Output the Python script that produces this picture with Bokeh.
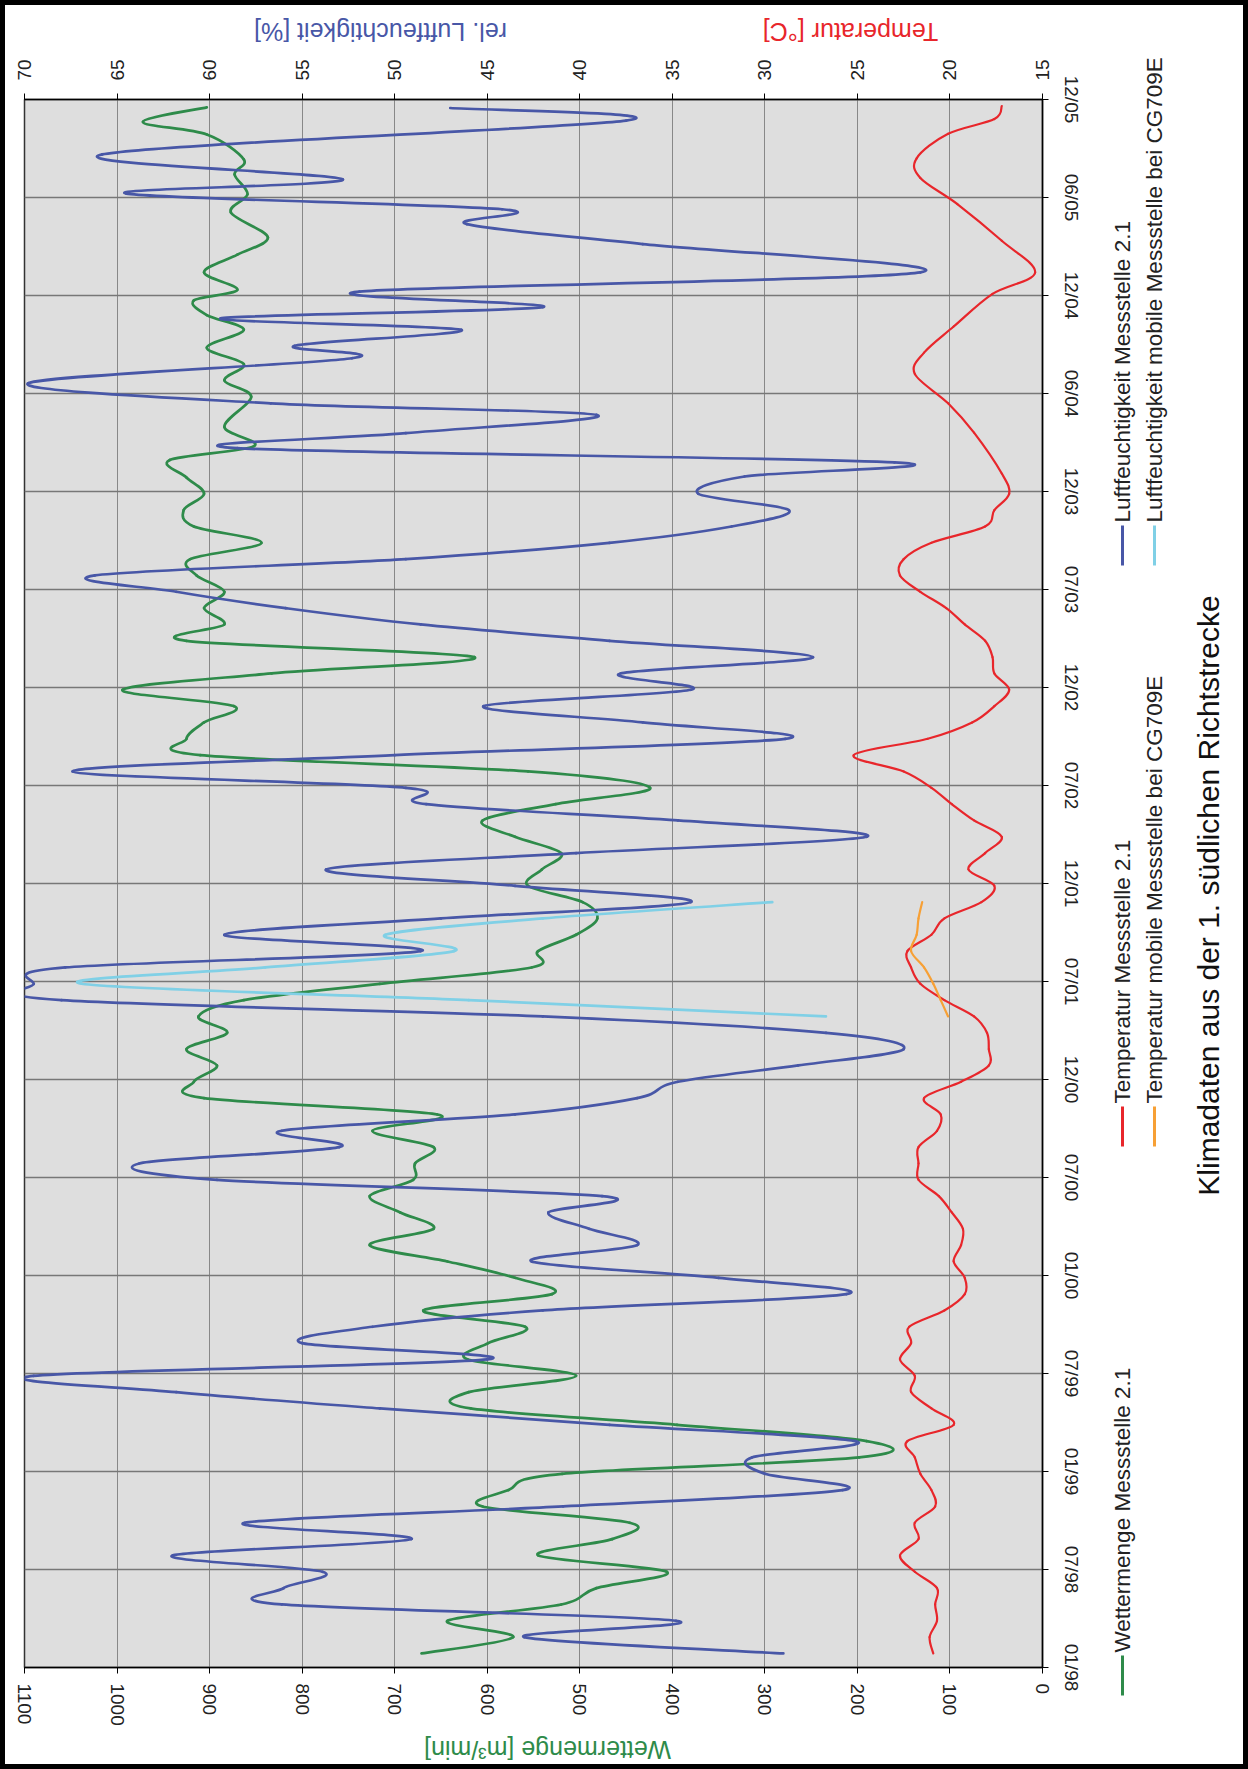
import numpy as np
from bokeh.plotting import figure
from bokeh.models import Range1d, LinearAxis, FixedTicker, ColumnDataSource
from bokeh.layouts import row
from bokeh.embed import file_html
from bokeh.resources import INLINE
from bokeh.core.properties import value

FONT = "Liberation Sans"

# ---------------- data ----------------
# time axis: months since 01/1998, one tick every half year
tick_months = [0, 6, 12, 18, 24, 30, 36, 42, 48, 54, 60, 66, 72, 78, 84, 90, 96]
tick_labels = ["01/98", "07/98", "01/99", "07/99", "01/00", "07/00", "12/00", "07/01",
               "12/01", "07/02", "12/02", "07/03", "12/03", "06/04", "12/04", "06/05", "12/05"]
flow_ticks = [0, 100, 200, 300, 400, 500, 600, 700, 800, 900, 1000, 1100]
pct_ticks = [15, 20, 25, 30, 35, 40, 45, 50, 55, 60, 65, 70]

# monthly measurement dates (months since 01/1998) for 1998-2003
month_grid = [0.86, 1.86, 2.86, 3.86, 4.86, 5.86, 6.86, 7.86, 8.86, 9.86, 10.86, 11.86,
              12.86, 13.86, 14.86, 15.86, 16.86, 17.86, 18.86, 19.86, 20.86, 21.86, 22.86, 23.86,
              24.86, 25.86, 26.86, 27.86, 28.86, 29.86, 30.86, 31.86, 32.86, 33.86, 34.86, 35.86,
              36.86, 37.86, 38.86, 39.86, 40.86, 41.86, 42.86, 43.86, 44.86, 45.86, 46.86, 47.86,
              48.86, 49.86, 50.86, 51.86, 52.86, 53.86, 54.86, 55.86, 56.86, 57.86, 58.86, 59.86,
              60.86, 61.86, 62.86, 63.86, 64.86, 65.86, 66.86, 67.86, 68.86, 69.86, 70.86, 71.86]

# Wettermenge Messstelle 2.1 [m3/min]
flow_t = month_grid + [72.86, 73.93, 74.78, 75.96, 77.8, 78.8, 79.8, 80.8, 81.9, 82.8, 83.7,
                       84.35, 85.42, 86.5, 87.56, 89.08, 90.2, 91.42, 92.33, 93.86, 94.63, 95.52]
flow_v = [671, 572, 643, 520, 482, 406, 545, 465, 446, 605, 577, 519,
          198, 190, 395, 618, 620, 504, 621, 599, 559, 669, 530, 570,
          643, 727, 658, 694, 727, 680, 678, 658, 724, 654, 906, 917,
          892, 925, 881, 912, 863, 716, 552, 545, 504, 481, 497, 556,
          541, 520, 570, 605, 526, 424, 556, 910, 925, 906, 874, 994,
          833, 614, 925, 884, 906, 884, 914, 921, 844, 917, 928, 906,
          925, 943, 852, 884, 855, 884, 863, 903, 863, 903, 917,
          870, 906, 870, 837, 877, 859, 873, 863, 903, 972, 903]

# Luftfeuchtigkeit Messstelle 2.1 [%]
hum_t = month_grid + [72.92, 73.78, 74.65, 75.57, 76.69, 77.4, 78.63, 80.16, 80.92, 81.9, 82.6,
                      83.29, 84.24, 85.42, 87.15, 88.37, 89.28, 90.24, 91.11, 92.64, 94.71, 95.48]
hum_v = [29.0, 43.0, 34.8, 56.1, 56.0, 53.9, 62.0, 49.1, 58.1, 40.9, 25.8, 30.0,
         30.7, 25.1, 38.4, 50.8, 61.8, 69.5, 45.0, 55.0, 51.2, 42.0, 25.6, 32.5,
         42.6, 36.9, 39.5, 41.7, 38.8, 59.6, 63.8, 53.0, 56.1, 43.5, 36.9, 34.7,
         28.2, 22.5, 26.7, 42.0, 68.0, 69.5, 67.8, 48.6, 59.2, 47.5, 34.0, 43.5,
         53.7, 40.2, 24.5, 34.7, 48.3, 49.4, 67.4, 50.0, 28.9, 36.6, 45.2, 34.0,
         37.8, 27.4, 38.4, 48.6, 55.9, 61.8, 66.2, 49.4, 38.4, 31.8, 28.7, 33.6,
         31.1, 23.0, 58.5, 49.4, 39.1, 56.7, 69.8, 52.3, 55.4, 46.4, 59.4,
         42.0, 51.9, 21.6, 36.6, 46.1, 44.2, 64.5, 52.8, 65.8, 37.5, 47.0]

# Temperatur Messstelle 2.1 [degC]
temp_t = month_grid + [73.1, 75.6, 77.4, 79.2, 80.5, 82.1, 84.1, 85.4, 87.35, 89.6, 91.2,
                       92.4, 93.9, 94.8, 95.6]
temp_v = [20.9, 21.1, 20.7, 20.8, 20.7, 21.9, 22.7, 21.7, 21.9, 20.8, 21.0, 21.6,
          21.9, 22.3, 19.8, 21.0, 22.1, 21.9, 22.7, 22.1, 22.2, 20.3, 19.2, 19.2,
          19.8, 19.4, 19.3, 19.9, 20.6, 21.7, 21.7, 21.7, 20.7, 20.5, 21.4, 19.4,
          17.9, 17.9, 18.0, 18.7, 20.3, 21.6, 22.1, 22.3, 21.0, 20.3, 18.3, 17.6,
          19.0, 18.1, 17.2, 18.7, 19.9, 21.0, 22.5, 25.2, 21.2, 18.8, 17.6, 16.8,
          17.6, 17.7, 18.1, 19.2, 20.2, 21.6, 22.7, 22.5, 21.0, 18.1, 17.6, 16.8,
          17.2, 18.7, 20.1, 21.9, 21.4, 19.8, 17.7, 15.4, 17.2, 19.6, 21.6,
          21.8, 20.1, 17.6, 17.2]

# mobile Messstelle bei CG709E
mob_t = [39.86, 40.86, 41.86, 42.86, 43.86, 44.86, 45.86, 46.86]
mob_hum_v = [26.7, 46.0, 66.9, 57.0, 46.8, 50.5, 42.0, 29.6]
mob_temp_v = [20.1, 20.5, 20.9, 21.4, 22.1, 21.8, 21.7, 21.5]

legend_names = ["Wettermenge Messstelle 2.1", "Temperatur Messstelle 2.1",
                "Luftfeuchtigkeit Messstelle 2.1", "Temperatur mobile Messstelle bei CG709E",
                "Luftfeuchtigkeit mobile Messstelle bei CG709E"]
title_text = "Klimadaten aus der 1. südlichen Richtstrecke"
flow_title = "Wettermenge [m³/min]"
hum_title = "rel. Luftfeuchtigkeit [%]"
temp_title = "Temperatur [°C]"

# ---------------- style ----------------
C_FLOW = "#2e8b4a"
C_HUM = "#4857a7"
C_TEMP = "#e8262b"
C_MHUM = "#80d0e6"
C_MTEMP = "#f7a035"
C_TEXT = "#222222"
legend_colors = [C_FLOW, C_TEMP, C_HUM, C_MTEMP, C_MHUM]

W, H = 1248, 1769
FX0, FX1, FY0, FY1 = 24, 1042, 99, 1667   # page pixels of the plotting frame


def smooth_source(vals, times):
    """Smoothed (Catmull-Rom) line segments through the read points."""
    v = np.asarray(vals, float)
    t = np.asarray(times, float)
    vp = np.concatenate([[v[0]], v, [v[-1]]])
    tp = np.concatenate([[t[0]], t, [t[-1]]])
    i = np.arange(len(v) - 1)
    return ColumnDataSource(dict(
        x0=vp[i + 1], y0=tp[i + 1], x1=vp[i + 2], y1=tp[i + 2],
        cx0=vp[i + 1] + (vp[i + 2] - vp[i]) / 6.0,
        cy0=tp[i + 1] + (tp[i + 2] - tp[i]) / 6.0,
        cx1=vp[i + 2] - (vp[i + 3] - vp[i + 1]) / 6.0,
        cy1=tp[i + 2] - (tp[i + 3] - tp[i + 1]) / 6.0,
    ))


# ---------------- main (rotated) chart ----------------
p = figure(width=W, height=H,
           x_range=Range1d(1100, 0), y_range=Range1d(0, 96),
           y_axis_location="right",
           output_backend="svg", toolbar_location=None,
           min_border_left=FX0, min_border_right=W - FX1,
           min_border_top=FY0, min_border_bottom=H - FY1,
           background_fill_color="#dedede", border_fill_color="white", border_fill_alpha=0,
           outline_line_color="#333333", outline_line_width=1.5)
p.extra_x_ranges = {"sec": Range1d(70, 15)}

xa = p.xaxis[0]
xa.ticker = FixedTicker(ticks=flow_ticks)
top_ax = LinearAxis(x_range_name="sec", ticker=FixedTicker(ticks=pct_ticks))
p.add_layout(top_ax, "above")
ya = p.yaxis[0]
ya.ticker = FixedTicker(ticks=tick_months)
ya.major_label_overrides = {m: lab for m, lab in zip(tick_months, tick_labels)}

for ax in (xa, top_ax, ya):
    ax.major_label_orientation = "vertical"
    ax.major_label_text_font = FONT
    ax.major_label_text_font_size = "19px"
    ax.major_label_text_color = C_TEXT
    ax.axis_line_color = "black"
    ax.axis_line_width = 1.5
    ax.major_tick_line_color = "black"
    ax.major_tick_out = 6
    ax.major_tick_in = 0
    ax.minor_tick_out = 0
    ax.minor_tick_in = 0
xa.major_label_standoff = 10
top_ax.major_label_standoff = 13
ya.major_label_standoff = 12

p.xgrid.grid_line_color = "#888888"
p.xgrid.grid_line_width = 1
p.ygrid.grid_line_color = "#777777"
p.ygrid.grid_line_width = 1.5

BZ = dict(x0="x0", y0="y0", x1="x1", y1="y1", cx0="cx0", cy0="cy0", cx1="cx1", cy1="cy1",
          line_cap="round")
p.bezier(source=smooth_source(flow_v, flow_t), line_color=C_FLOW, line_width=2.7, **BZ)
p.bezier(source=smooth_source(hum_v, hum_t), line_color=C_HUM, line_width=2.7,
         x_range_name="sec", **BZ)
p.bezier(source=smooth_source(mob_hum_v, mob_t), line_color=C_MHUM, line_width=2.7,
         x_range_name="sec", **BZ)
p.bezier(source=smooth_source(temp_v, temp_t), line_color=C_TEMP, line_width=2.2,
         x_range_name="sec", **BZ)
p.bezier(source=smooth_source(mob_temp_v, mob_t), line_color=C_MTEMP, line_width=2.2,
         x_range_name="sec", **BZ)

main = row(p, styles={"outline": "5px solid black", "outline-offset": "-5px"})

# ---------------- transparent overlay: rotated titles, legend ----------------
# coordinates of this overlay are page pixels (y measured upward from the page bottom)
ov = figure(width=W, height=H, x_range=Range1d(0, W), y_range=Range1d(0, H),
            output_backend="svg", toolbar_location=None, title=None,
            x_axis_location=None, y_axis_location=None, min_border=0,
            outline_line_color=None, background_fill_alpha=0, border_fill_alpha=0,
            styles={"position": "absolute", "left": "0px", "top": "0px"})
ov.xgrid.visible = False
ov.ygrid.visible = False


def up(py):
    return H - py


def put_text(xs, ys, texts, size, colors, angle, align):
    ov.text(x=xs, y=[up(y) for y in ys], text=texts, angle=angle, text_align=align,
            text_baseline="middle", text_font=value(FONT), text_font_size=value(size),
            text_color=colors)


# axis titles, upside down as in the rotated original
put_text([547], [1749], [flow_title], "25px", [C_FLOW], np.pi, "center")
put_text([380, 850], [31, 31], [hum_title, temp_title], "25px", [C_HUM, C_TEMP], np.pi, "center")

# legend: swatch + text, reading bottom-to-top
leg_px = [1122, 1122, 1122, 1154, 1154]
leg_py = [1695, 1146, 565, 1146, 565]
sw = 40
ov.segment(x0=leg_px, y0=[up(y) for y in leg_py], x1=leg_px, y1=[up(y - sw) for y in leg_py],
           line_color=legend_colors, line_width=3)
put_text(leg_px, [y - sw - 3 for y in leg_py], legend_names, "22.5px", [C_TEXT] * 5,
         np.pi / 2, "left")

# chart title
put_text([1208], [895], [title_text], "30px", ["#111111"], np.pi / 2, "center")

open("out.html", "w").write(file_html([main, ov], INLINE))
